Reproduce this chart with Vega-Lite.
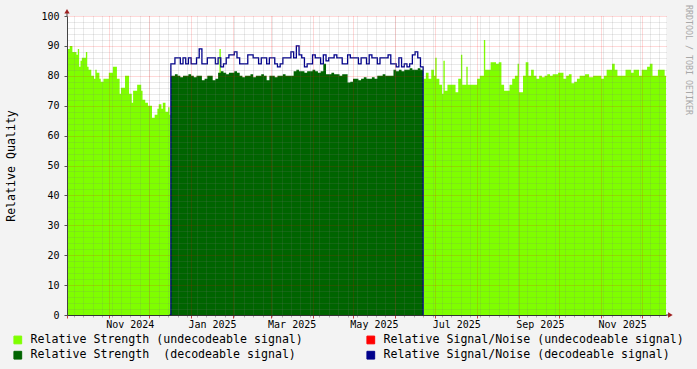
{
  "width": 599,
  "height": 299,
  "autosize": "none",
  "padding": {"left": 67, "top": 16, "right": 31, "bottom": 54},
  "background": "#F3F3F3",
  "view": {"fill": "#FFFFFF", "stroke": null},
  "title": {"text": "RRDTOOL / TOBI OETIKER", "orient": "right", "anchor": "start", "frame": "group", "offset": 1, "font": "DejaVu Sans Mono", "fontSize": 8.3, "fontWeight": "normal", "color": "#A8A8A8", "dx": -11},
  "data": {
    "format": {"parse": {"t": "utc:'%Y-%m-%d'"}},
    "values": [
      {"t":"2024-10-01","u":89,"d":0},
      {"t":"2024-10-03","u":90,"d":0},
      {"t":"2024-10-05","u":88,"d":0},
      {"t":"2024-10-08","u":87,"d":0},
      {"t":"2024-10-09","u":89,"d":0},
      {"t":"2024-10-10","u":83,"d":0},
      {"t":"2024-10-11","u":85,"d":0},
      {"t":"2024-10-12","u":86,"d":0},
      {"t":"2024-10-15","u":88,"d":0},
      {"t":"2024-10-16","u":83,"d":0},
      {"t":"2024-10-17","u":82,"d":0},
      {"t":"2024-10-19","u":80,"d":0},
      {"t":"2024-10-21","u":79,"d":0},
      {"t":"2024-10-22","u":82,"d":0},
      {"t":"2024-10-23","u":81,"d":0},
      {"t":"2024-10-25","u":79,"d":0},
      {"t":"2024-10-26","u":78,"d":0},
      {"t":"2024-10-28","u":79,"d":0},
      {"t":"2024-11-01","u":81,"d":0},
      {"t":"2024-11-04","u":83,"d":0},
      {"t":"2024-11-07","u":79,"d":0},
      {"t":"2024-11-09","u":74,"d":0},
      {"t":"2024-11-10","u":76,"d":0},
      {"t":"2024-11-13","u":80,"d":0},
      {"t":"2024-11-16","u":74,"d":0},
      {"t":"2024-11-18","u":71,"d":0},
      {"t":"2024-11-19","u":75,"d":0},
      {"t":"2024-11-22","u":77,"d":0},
      {"t":"2024-11-25","u":75,"d":0},
      {"t":"2024-11-26","u":72,"d":0},
      {"t":"2024-11-28","u":71,"d":0},
      {"t":"2024-11-30","u":70,"d":0},
      {"t":"2024-12-03","u":66,"d":0},
      {"t":"2024-12-05","u":67,"d":0},
      {"t":"2024-12-07","u":69,"d":0},
      {"t":"2024-12-08","u":70.5,"d":0},
      {"t":"2024-12-10","u":69,"d":0},
      {"t":"2024-12-11","u":71,"d":0},
      {"t":"2024-12-13","u":68,"d":0},
      {"t":"2024-12-15","u":69.5,"d":0},
      {"t":"2024-12-16","u":67,"d":0,"n":0},
      {"t":"2024-12-17","u":0,"d":80,"n":84},
      {"t":"2024-12-20","u":0,"d":80.5,"n":86},
      {"t":"2024-12-22","u":0,"d":80,"n":86},
      {"t":"2024-12-24","u":0,"d":79.5,"n":84},
      {"t":"2024-12-26","u":0,"d":80,"n":86},
      {"t":"2024-12-28","u":0,"d":80,"n":84},
      {"t":"2024-12-30","u":0,"d":80.5,"n":86},
      {"t":"2025-01-01","u":0,"d":80,"n":84},
      {"t":"2025-01-03","u":0,"d":79.5,"n":84},
      {"t":"2025-01-05","u":0,"d":80,"n":86},
      {"t":"2025-01-07","u":0,"d":80,"n":89},
      {"t":"2025-01-09","u":0,"d":78.5,"n":84},
      {"t":"2025-01-11","u":0,"d":79,"n":84},
      {"t":"2025-01-13","u":0,"d":80,"n":86},
      {"t":"2025-01-15","u":0,"d":80,"n":86},
      {"t":"2025-01-17","u":0,"d":78.5,"n":86},
      {"t":"2025-01-19","u":0,"d":79,"n":84},
      {"t":"2025-01-21","u":0,"d":81,"n":86},
      {"t":"2025-01-22","u":89,"d":81,"n":86},
      {"t":"2025-01-23","u":0,"d":81.5,"n":83},
      {"t":"2025-01-25","u":0,"d":81,"n":84},
      {"t":"2025-01-27","u":0,"d":80.5,"n":86},
      {"t":"2025-01-29","u":0,"d":81,"n":87},
      {"t":"2025-01-31","u":0,"d":81,"n":87},
      {"t":"2025-02-02","u":0,"d":81.5,"n":88},
      {"t":"2025-02-04","u":0,"d":81,"n":86},
      {"t":"2025-02-06","u":0,"d":80,"n":84},
      {"t":"2025-02-08","u":0,"d":79.5,"n":84},
      {"t":"2025-02-10","u":0,"d":80,"n":84},
      {"t":"2025-02-12","u":0,"d":80,"n":87},
      {"t":"2025-02-14","u":0,"d":80.5,"n":87},
      {"t":"2025-02-16","u":0,"d":79.5,"n":86},
      {"t":"2025-02-18","u":0,"d":80,"n":86},
      {"t":"2025-02-20","u":0,"d":80,"n":84},
      {"t":"2025-02-22","u":0,"d":80.5,"n":86},
      {"t":"2025-02-24","u":0,"d":80,"n":86},
      {"t":"2025-02-26","u":0,"d":78.5,"n":84},
      {"t":"2025-02-28","u":0,"d":80,"n":86},
      {"t":"2025-03-02","u":0,"d":80,"n":86},
      {"t":"2025-03-04","u":0,"d":79.5,"n":84},
      {"t":"2025-03-06","u":0,"d":80,"n":83},
      {"t":"2025-03-08","u":0,"d":80,"n":84},
      {"t":"2025-03-10","u":0,"d":80.5,"n":86},
      {"t":"2025-03-12","u":0,"d":80,"n":86},
      {"t":"2025-03-14","u":0,"d":80,"n":86},
      {"t":"2025-03-16","u":0,"d":80,"n":88},
      {"t":"2025-03-18","u":0,"d":81.5,"n":86},
      {"t":"2025-03-20","u":0,"d":82,"n":90},
      {"t":"2025-03-22","u":0,"d":81.5,"n":87},
      {"t":"2025-03-24","u":0,"d":81.5,"n":86},
      {"t":"2025-03-26","u":0,"d":81,"n":83},
      {"t":"2025-03-28","u":0,"d":81.5,"n":84},
      {"t":"2025-03-30","u":0,"d":81.5,"n":84},
      {"t":"2025-04-01","u":0,"d":82,"n":87},
      {"t":"2025-04-03","u":0,"d":81.5,"n":86},
      {"t":"2025-04-05","u":0,"d":81,"n":86},
      {"t":"2025-04-07","u":0,"d":81.5,"n":84},
      {"t":"2025-04-09","u":0,"d":84,"n":87},
      {"t":"2025-04-11","u":0,"d":80.5,"n":85},
      {"t":"2025-04-13","u":0,"d":80.5,"n":86},
      {"t":"2025-04-15","u":0,"d":81,"n":86},
      {"t":"2025-04-17","u":0,"d":80.5,"n":87},
      {"t":"2025-04-19","u":0,"d":80.5,"n":86},
      {"t":"2025-04-21","u":0,"d":80,"n":86},
      {"t":"2025-04-23","u":0,"d":80.5,"n":84},
      {"t":"2025-04-25","u":0,"d":80.5,"n":84},
      {"t":"2025-04-27","u":0,"d":77.8,"n":87},
      {"t":"2025-04-29","u":0,"d":78,"n":86},
      {"t":"2025-05-01","u":0,"d":79,"n":86},
      {"t":"2025-05-03","u":0,"d":79,"n":86},
      {"t":"2025-05-05","u":0,"d":78.5,"n":84},
      {"t":"2025-05-07","u":0,"d":79,"n":86},
      {"t":"2025-05-09","u":0,"d":79.5,"n":86},
      {"t":"2025-05-11","u":0,"d":79,"n":84},
      {"t":"2025-05-13","u":0,"d":79,"n":87},
      {"t":"2025-05-15","u":0,"d":79.5,"n":86},
      {"t":"2025-05-17","u":0,"d":79,"n":86},
      {"t":"2025-05-19","u":0,"d":80,"n":84},
      {"t":"2025-05-21","u":0,"d":80,"n":86},
      {"t":"2025-05-23","u":0,"d":80.5,"n":86},
      {"t":"2025-05-25","u":0,"d":80,"n":86},
      {"t":"2025-05-27","u":0,"d":80,"n":87},
      {"t":"2025-05-29","u":0,"d":80,"n":84},
      {"t":"2025-05-31","u":0,"d":82,"n":84},
      {"t":"2025-06-02","u":0,"d":81.5,"n":83},
      {"t":"2025-06-04","u":0,"d":82,"n":86},
      {"t":"2025-06-06","u":0,"d":81.5,"n":83},
      {"t":"2025-06-08","u":0,"d":82,"n":84},
      {"t":"2025-06-10","u":0,"d":82,"n":83},
      {"t":"2025-06-12","u":0,"d":82.5,"n":84},
      {"t":"2025-06-14","u":0,"d":82,"n":87},
      {"t":"2025-06-16","u":0,"d":82,"n":88},
      {"t":"2025-06-18","u":0,"d":82.5,"n":86},
      {"t":"2025-06-20","u":0,"d":82,"n":83},
      {"t":"2025-06-22","u":79,"d":0,"n":0},
      {"t":"2025-06-24","u":81,"d":0},
      {"t":"2025-06-26","u":79,"d":0},
      {"t":"2025-06-28","u":82,"d":0},
      {"t":"2025-06-30","u":80,"d":0},
      {"t":"2025-07-01","u":86,"d":0},
      {"t":"2025-07-02","u":79,"d":0},
      {"t":"2025-07-04","u":77,"d":0},
      {"t":"2025-07-06","u":74,"d":0},
      {"t":"2025-07-07","u":85,"d":0},
      {"t":"2025-07-08","u":75,"d":0},
      {"t":"2025-07-10","u":77,"d":0},
      {"t":"2025-07-16","u":74.5,"d":0},
      {"t":"2025-07-18","u":79,"d":0},
      {"t":"2025-07-20","u":87,"d":0},
      {"t":"2025-07-21","u":77,"d":0},
      {"t":"2025-07-24","u":83,"d":0},
      {"t":"2025-07-25","u":77,"d":0},
      {"t":"2025-08-01","u":79,"d":0},
      {"t":"2025-08-03","u":80,"d":0},
      {"t":"2025-08-06","u":92,"d":0},
      {"t":"2025-08-07","u":82,"d":0},
      {"t":"2025-08-11","u":84.5,"d":0},
      {"t":"2025-08-15","u":84,"d":0},
      {"t":"2025-08-17","u":84.5,"d":0},
      {"t":"2025-08-19","u":77,"d":0},
      {"t":"2025-08-21","u":75,"d":0},
      {"t":"2025-08-25","u":77,"d":0},
      {"t":"2025-08-27","u":79,"d":0},
      {"t":"2025-08-29","u":80,"d":0},
      {"t":"2025-08-31","u":84,"d":0},
      {"t":"2025-09-01","u":74.5,"d":0},
      {"t":"2025-09-04","u":80,"d":0},
      {"t":"2025-09-06","u":84.5,"d":0},
      {"t":"2025-09-08","u":80,"d":0},
      {"t":"2025-09-10","u":82,"d":0},
      {"t":"2025-09-12","u":80,"d":0},
      {"t":"2025-09-14","u":79,"d":0},
      {"t":"2025-09-16","u":80,"d":0},
      {"t":"2025-09-18","u":79.5,"d":0},
      {"t":"2025-09-20","u":80,"d":0},
      {"t":"2025-09-22","u":80.5,"d":0},
      {"t":"2025-09-24","u":80,"d":0},
      {"t":"2025-09-26","u":80.5,"d":0},
      {"t":"2025-09-30","u":81,"d":0},
      {"t":"2025-10-04","u":79,"d":0},
      {"t":"2025-10-06","u":80,"d":0},
      {"t":"2025-10-08","u":80.5,"d":0},
      {"t":"2025-10-10","u":77.5,"d":0},
      {"t":"2025-10-12","u":78,"d":0},
      {"t":"2025-10-14","u":79,"d":0},
      {"t":"2025-10-16","u":80,"d":0},
      {"t":"2025-10-20","u":80.5,"d":0},
      {"t":"2025-10-23","u":79.5,"d":0},
      {"t":"2025-10-26","u":80,"d":0},
      {"t":"2025-11-01","u":79,"d":0},
      {"t":"2025-11-03","u":80,"d":0},
      {"t":"2025-11-05","u":82,"d":0},
      {"t":"2025-11-09","u":84,"d":0},
      {"t":"2025-11-11","u":82,"d":0},
      {"t":"2025-11-13","u":80,"d":0},
      {"t":"2025-11-19","u":82,"d":0},
      {"t":"2025-11-23","u":81,"d":0},
      {"t":"2025-11-25","u":82,"d":0},
      {"t":"2025-11-29","u":80,"d":0},
      {"t":"2025-12-01","u":82,"d":0},
      {"t":"2025-12-05","u":83,"d":0},
      {"t":"2025-12-07","u":84,"d":0},
      {"t":"2025-12-09","u":80,"d":0},
      {"t":"2025-12-13","u":82,"d":0},
      {"t":"2025-12-18","u":80,"d":0},
      {"t":"2025-12-19","u":80,"d":0}
    ]
  },
  "layer": [
    {
      "mark": {"type": "area", "interpolate": "step-after", "clip": true},
      "encoding": {
        "x": {"field": "t", "type": "temporal",
          "scale": {"type": "utc", "domain": [{"year":2024,"month":10,"date":1,"utc":true},{"year":2025,"month":12,"date":19,"utc":true}]},
          "axis": {"orient": "bottom", "tickCount": {"interval": "week", "step": 1}, "labels": false, "title": null, "domain": false, "grid": true, "gridColor": "#808080", "gridOpacity": 0.32, "gridDash": [1, 1], "ticks": true, "tickSize": 2, "tickColor": "#B0B0B0", "zindex": 1}},
        "y": {"field": "u", "type": "quantitative",
          "scale": {"domain": [0, 100], "nice": false, "zero": true},
          "axis": {"orient": "left", "values": [2,4,6,8,12,14,16,18,22,24,26,28,32,34,36,38,42,44,46,48,52,54,56,58,62,64,66,68,72,74,76,78,82,84,86,88,92,94,96,98], "labels": false, "title": null, "domain": false, "ticks": false, "grid": true, "gridColor": "#808080", "gridOpacity": 0.32, "gridDash": [1, 1], "zindex": 1}},
        "color": {"datum": "Relative Strength (undecodeable signal)", "type": "nominal",
          "scale": {"domain": ["Relative Strength (undecodeable signal)", "Relative Signal/Noise (undecodeable signal)", "Relative Strength\u00a0 (decodeable signal)", "Relative Signal/Noise (decodeable signal)"], "range": ["#7FFF00", "#FF0000", "#006400", "#00008B"]},
          "legend": {"orient": "none", "legendX": -55, "legendY": 318, "direction": "horizontal", "columns": 2, "title": null, "symbolType": "square", "symbolSize": 60, "symbolStrokeColor": "#000000", "symbolStrokeWidth": 1, "symbolOpacity": 1, "labelFont": "DejaVu Sans Mono", "labelFontSize": 11.6, "labelColor": "#000000", "labelLimit": 500, "labelOffset": 7, "columnPadding": 61, "rowPadding": 2.4, "padding": 0,
            "encode": {"symbols": {"update": {"fill": {"scale": "color", "field": "value"}, "stroke": {"value": "#000000"}, "strokeWidth": {"value": 1}, "shape": {"value": "square"}, "opacity": {"value": 1}}}}}}
      }
    },
    {
      "mark": {"type": "area", "interpolate": "step-after", "clip": true},
      "encoding": {
        "x": {"field": "t", "type": "temporal",
          "axis": {"orient": "bottom", "tickCount": {"interval": "month", "step": 1}, "labels": false, "title": null, "domain": false, "grid": true, "gridColor": "#FF0000", "gridOpacity": 0.3, "gridDash": [1, 1], "ticks": true, "tickSize": 3, "tickColor": "#C04040", "zindex": 1}},
        "y": {"field": "d", "type": "quantitative",
          "axis": {"orient": "left", "values": [0,10,20,30,40,50,60,70,80,90,100], "grid": true, "gridColor": "#FF0000", "gridOpacity": 0.3, "gridDash": [1, 1], "ticks": true, "tickSize": 3, "tickColor": "#555555", "labelFont": "DejaVu Sans Mono", "labelFontSize": 10, "labelColor": "#000000", "labelPadding": 5, "domain": true, "domainColor": "#444444", "title": "Relative Quality", "titleFont": "DejaVu Sans Mono", "titleFontSize": 11.6, "titleFontWeight": "normal", "titleColor": "#000000", "titlePadding": 24, "zindex": 1}},
        "color": {"datum": "Relative Strength\u00a0 (decodeable signal)", "type": "nominal"}
      }
    },
    {
      "transform": [{"filter": "isValid(datum.n)"}],
      "mark": {"type": "line", "interpolate": "step-after", "strokeWidth": 1.3, "clip": true},
      "encoding": {
        "x": {"field": "t", "type": "temporal",
          "axis": {"orient": "bottom", "values": [{"year":2024,"month":11,"date":16,"hours":12,"utc":true},{"year":2025,"month":1,"date":16,"hours":12,"utc":true},{"year":2025,"month":3,"date":16,"hours":12,"utc":true},{"year":2025,"month":5,"date":16,"hours":12,"utc":true},{"year":2025,"month":7,"date":16,"hours":12,"utc":true},{"year":2025,"month":9,"date":16,"hours":12,"utc":true},{"year":2025,"month":11,"date":16,"hours":12,"utc":true}], "format": "%b %Y", "labelFont": "DejaVu Sans Mono", "labelFontSize": 10, "labelColor": "#000000", "labelPadding": 4, "labelFlush": false, "labelOverlap": false, "ticks": false, "grid": false, "domain": true, "domainColor": "#333333", "title": null, "zindex": 1}},
        "y": {"field": "n", "type": "quantitative", "axis": null},
        "color": {"datum": "Relative Signal/Noise (decodeable signal)", "type": "nominal"}
      }
    },
    {
      "data": {"values": [{}]},
      "mark": {"type": "rule", "color": "#444444", "strokeWidth": 1},
      "encoding": {
        "x": {"datum": {"year":2024,"month":10,"date":1,"utc":true}, "type": "temporal", "axis": null},
        "y": {"datum": 100, "type": "quantitative", "axis": null},
        "y2": {"datum": 101.2}
      }
    },
    {
      "data": {"values": [{}]},
      "mark": {"type": "rule", "color": "#333333", "strokeWidth": 1},
      "encoding": {
        "x": {"datum": {"year":2025,"month":12,"date":19,"utc":true}, "type": "temporal", "axis": null},
        "x2": {"datum": {"year":2025,"month":12,"date":21,"hours":12,"utc":true}},
        "y": {"datum": 0, "type": "quantitative", "axis": null}
      }
    },
    {
      "data": {"values": [{}]},
      "mark": {"type": "point", "shape": "triangle-up", "filled": true, "size": 28, "color": "#9E1F1F", "opacity": 1},
      "encoding": {
        "x": {"datum": {"year":2024,"month":10,"date":1,"utc":true}, "type": "temporal", "axis": null},
        "y": {"datum": 101.6, "type": "quantitative", "axis": null}
      }
    },
    {
      "data": {"values": [{}]},
      "mark": {"type": "point", "shape": "triangle-right", "filled": true, "size": 28, "color": "#9E1F1F", "opacity": 1},
      "encoding": {
        "x": {"datum": {"year":2025,"month":12,"date":22,"hours":6,"utc":true}, "type": "temporal", "axis": null},
        "y": {"datum": 0, "type": "quantitative", "axis": null}
      }
    }
  ],
  "resolve": {"axis": {"x": "independent", "y": "independent"}}
}
